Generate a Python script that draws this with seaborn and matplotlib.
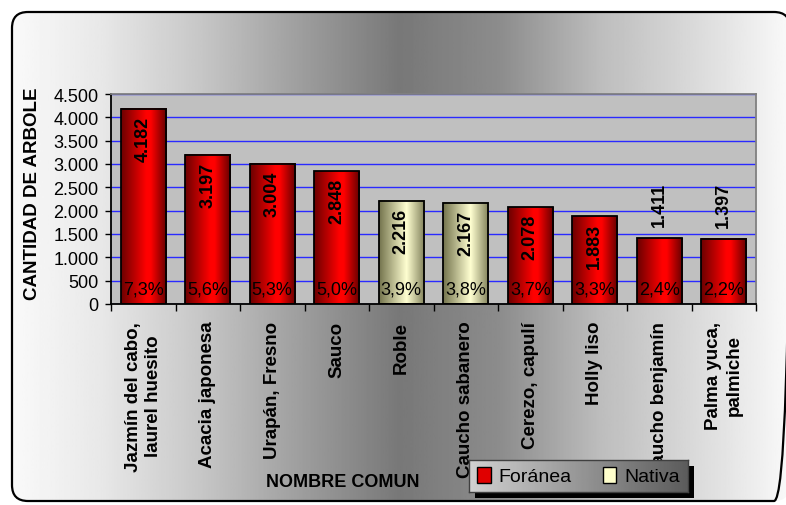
import numpy as np
import pandas as pd
import matplotlib
matplotlib.use('Agg')
import matplotlib.pyplot as plt
import seaborn as sns
from matplotlib.patches import FancyBboxPatch, Patch
from matplotlib.ticker import FuncFormatter

# Datos del grafico
nombres = ['Jazmín del cabo,\nlaurel huesito', 'Acacia japonesa', 'Urapán, Fresno',
           'Sauco', 'Roble', 'Caucho sabanero', 'Cerezo, capulí', 'Holly liso',
           'Caucho benjamín', 'Palma yuca,\npalmiche']
cantidades = [4182, 3197, 3004, 2848, 2216, 2167, 2078, 1883, 1411, 1397]
porcentajes = ['7,3%', '5,6%', '5,3%', '5,0%', '3,9%', '3,8%', '3,7%', '3,3%', '2,4%', '2,2%']
tipos = ['Foránea', 'Foránea', 'Foránea', 'Foránea', 'Nativa', 'Nativa',
         'Foránea', 'Foránea', 'Foránea', 'Foránea']
yticks = [0, 500, 1000, 1500, 2000, 2500, 3000, 3500, 4000, 4500]

df = pd.DataFrame({'nombre': nombres, 'cantidad': cantidades, 'tipo': tipos})

sns.set_theme(style='white')
plt.rcParams['font.family'] = ['Liberation Sans', 'DejaVu Sans']
plt.rcParams['text.color'] = 'black'
plt.rcParams['axes.labelcolor'] = 'black'
plt.rcParams['xtick.color'] = 'black'
plt.rcParams['ytick.color'] = 'black'

W, H = 786, 506
fig = plt.figure(figsize=(W / 100, H / 100), dpi=100)


def px_rect(x0, y0, x1, y1):
    return [x0 / W, 1 - y1 / H, (x1 - x0) / W, (y1 - y0) / H]


# Fondo con degradado y borde redondeado
bg = fig.add_axes([0, 0, 1, 1], zorder=-10)
bg.axis('off')
xs = np.linspace(10, 792, 500)
grad = np.interp(xs, [10, 100, 200, 300, 400, 500, 600, 700, 792],
                 [0.98, 0.91, 0.78, 0.62, 0.47, 0.55, 0.74, 0.86, 0.98])
borde = FancyBboxPatch((12, 13), 778, 489, boxstyle='round,pad=0,rounding_size=16',
                       facecolor='none', edgecolor='black', lw=1.6, zorder=3)
bg.add_patch(borde)
img = bg.imshow(grad[None, :], extent=[10, 792, 502, 13], aspect='auto',
                cmap='gray', vmin=0, vmax=1, zorder=1)
img.set_clip_path(borde)
bg.set_xlim(0, W)
bg.set_ylim(H, 0)

# Grafico de barras
ax = fig.add_axes(px_rect(111, 95, 756, 305))
colores = {'Foránea': '#E00000', 'Nativa': '#FFFFCC'}
sns.barplot(data=df, x='nombre', y='cantidad', hue='tipo', dodge=False, width=0.7,
            palette=colores, ax=ax, legend=False, order=nombres)

# degradado tipo cilindro en cada barra
t = np.linspace(0, 1, 200)
rojo = np.stack([np.interp(t, [0, 0.55, 0.65, 1], [0.42, 1.0, 1.0, 0.38]),
                 np.zeros_like(t), np.zeros_like(t)], axis=-1)
crema = np.stack([np.interp(t, [0, 0.6, 1], [0.45, 1.0, 0.5]),
                  np.interp(t, [0, 0.6, 1], [0.45, 1.0, 0.5]),
                  np.interp(t, [0, 0.6, 1], [0.30, 0.82, 0.35])], axis=-1)
for p in list(ax.patches):
    x0, w, h = p.get_x(), p.get_width(), p.get_height()
    i = int(round(x0 + w / 2))
    g = rojo if tipos[i] == 'Foránea' else crema
    ax.imshow(g[None, :, :], extent=[x0, x0 + w, 0, h], aspect='auto', zorder=2)
    p.set_facecolor('none')
    p.set_edgecolor('black')
    p.set_linewidth(1.3)
    p.set_zorder(2.5)

ax.set_xlim(-0.5, len(nombres) - 0.5)
ax.set_ylim(0, 4500)
ax.set_facecolor('#C0C0C0')
ax.set_axisbelow(True)
ax.set_yticks(yticks)
ax.yaxis.set_major_formatter(FuncFormatter(lambda v, pos: f'{int(v):,}'.replace(',', '.')))
ax.yaxis.grid(True, color='#2a2aff', lw=1)
ax.xaxis.grid(False)
ax.tick_params(axis='y', left=True, length=4, width=1, direction='out', color='black',
               labelsize=13, pad=5, labelcolor='black')

ax.set_xticks(range(len(nombres)))
ax.set_xticklabels(nombres, rotation=90, fontweight='bold', fontsize=13.5,
                   va='top', ha='center', multialignment='center', linespacing=1.25)
ax.set_xticks(np.arange(-0.5, len(nombres), 1), minor=True)
ax.tick_params(axis='x', which='major', length=0, pad=12, labelcolor='black')
ax.tick_params(axis='x', which='minor', bottom=True, length=5, width=1, direction='out', color='black')

for lado in ['top', 'right']:
    ax.spines[lado].set_color('#808080')
    ax.spines[lado].set_linewidth(1.3)
for lado in ['left', 'bottom']:
    ax.spines[lado].set_color('black')
    ax.spines[lado].set_linewidth(1.3)

# Etiquetas de valores y porcentajes
for i, v in enumerate(cantidades):
    txt = f'{v:,}'.replace(',', '.')
    if v >= 1500:
        ax.annotate(txt, (i, v), xytext=(0, -5), textcoords='offset points', rotation=90,
                    ha='center', va='top', fontsize=13, fontweight='bold', color='black', zorder=4)
    else:
        ax.annotate(txt, (i, v), xytext=(0, 8.5), textcoords='offset points', rotation=90,
                    ha='center', va='bottom', fontsize=13, fontweight='bold', color='black', zorder=4)
    ax.annotate(porcentajes[i], (i, 0), xytext=(0, 4.5), textcoords='offset points',
                ha='center', va='bottom', fontsize=13, color='black', zorder=4)

ax.set_ylabel('CANTIDAD DE ARBOLE', fontsize=13.5, fontweight='bold', color='black')
ax.yaxis.set_label_coords(-0.108, 0.53)
ax.set_xlabel('NOMBRE COMUN', fontsize=13, fontweight='bold', color='black')
ax.xaxis.set_label_coords((343 - 111) / 645, -(474 - 305) / 210)

# Leyenda con sombra y fondo degradado
sombra = fig.add_axes(px_rect(475, 467, 694, 499), zorder=4)
sombra.set_facecolor('black')
sombra.set_xticks([])
sombra.set_yticks([])
for s in sombra.spines.values():
    s.set_visible(False)

lax = fig.add_axes(px_rect(469, 461, 688, 493), zorder=5)
lax.imshow(np.linspace(0.82, 0.36, 200)[None, :], extent=[0, 1, 0, 1], aspect='auto',
           cmap='gray', vmin=0, vmax=1)
lax.set_xlim(0, 1)
lax.set_ylim(0, 1)
lax.set_xticks([])
lax.set_yticks([])
for s in lax.spines.values():
    s.set_color('#404040')
    s.set_linewidth(1)
manejadores = [Patch(facecolor='#E00000', edgecolor='black', label='Foránea'),
               Patch(facecolor='#FFFFCC', edgecolor='black', label='Nativa')]
lax.legend(handles=manejadores, loc='center', ncol=2, frameon=False, fontsize=14,
           handlelength=0.7, handleheight=0.9, handletextpad=0.4, columnspacing=1.6,
           borderpad=0, labelcolor='black')

fig.savefig('out.png', dpi=100)
